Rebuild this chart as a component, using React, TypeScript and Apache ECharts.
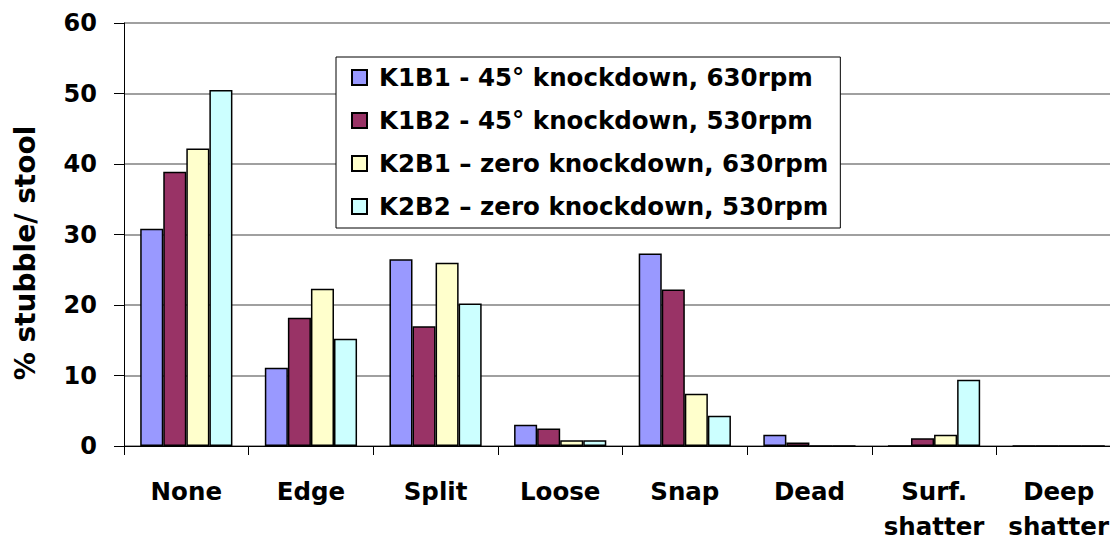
import React, { useEffect, useRef } from "react";
import * as echarts from "echarts";

const categories = ["None", "Edge", "Split", "Loose", "Snap", "Dead", "Surf.\nshatter", "Deep\nshatter"];
const seriesNames = [
  "K1B1 - 45° knockdown, 630rpm",
  "K1B2 - 45° knockdown, 530rpm",
  "K2B1 – zero knockdown, 630rpm",
  "K2B2 – zero knockdown, 530rpm",
];
const k1b1 = [30.8, 11.1, 26.5, 3.0, 27.3, 1.6, 0, 0];
const k1b2 = [38.9, 18.2, 17.0, 2.5, 22.2, 0.5, 1.1, 0];
const k2b1 = [42.2, 22.3, 26.0, 0.8, 7.4, 0, 1.6, 0];
const k2b2 = [50.5, 15.2, 20.2, 0.8, 4.3, 0, 9.4, 0];
const colors = ["#9999FF", "#993366", "#FFFFCC", "#CCFFFF"];
const yTicks = { min: 0, max: 60, interval: 10 };
const yTitle = "% stubble/ stool";

export default function App() {
  const ref = useRef<HTMLDivElement>(null);
  useEffect(() => {
    const chart = echarts.init(ref.current!, null, { renderer: "svg" });
    const font = "'DejaVu Sans', 'Liberation Sans', Arial, sans-serif";
    const data = [k1b1, k1b2, k2b1, k2b2];
    chart.setOption({
      animation: false,
      textStyle: { fontFamily: font },
      grid: { left: 124, top: 23, bottom: 94, right: -11, containLabel: false, outerBoundsMode: "none" },
      graphic: [
        {
          type: "text",
          x: 11,
          y: 253,
          rotation: Math.PI / 2,
          style: {
            text: yTitle,
            fontFamily: font,
            fontWeight: "bold",
            fontSize: 28,
            fill: "#000",
            align: "center",
            verticalAlign: "top",
          },
        },
      ],
      legend: {
        orient: "vertical",
        left: 336,
        top: 57,
        data: seriesNames,
        backgroundColor: "#fff",
        borderColor: "#000",
        borderWidth: 1,
        padding: [8, 12, 9, 15],
        itemGap: 18,
        itemWidth: 15,
        itemHeight: 15,
        icon: "rect",
        textStyle: { fontFamily: font, fontWeight: "bold", fontSize: 24.5, color: "#000", padding: [0, 0, 0, 7] },
      },
      xAxis: {
        type: "category",
        data: categories,
        axisLine: { lineStyle: { color: "#000", width: 1 } },
        axisTick: { show: true, length: 9, lineStyle: { color: "#000" } },
        axisLabel: { fontFamily: font, fontWeight: "bold", fontSize: 24.5, color: "#000", margin: 28, lineHeight: 35, interval: 0 },
      },
      yAxis: {
        type: "value",
        min: yTicks.min,
        max: yTicks.max,
        interval: yTicks.interval,
        axisLine: { show: true, lineStyle: { color: "#000", width: 1 } },
        axisTick: { show: true, length: 10, lineStyle: { color: "#000" } },
        axisLabel: { fontFamily: font, fontWeight: "bold", fontSize: 24, color: "#000", margin: 27 },
        splitLine: { lineStyle: { color: "#808080", width: 1.5 } },
      },
      series: data.map((d, i) => ({
        name: seriesNames[i],
        type: "bar",
        data: d,
        barGap: "0%",
        barCategoryGap: "26%",
        itemStyle: { color: colors[i], borderColor: "#000", borderWidth: 1.5 },
      })),
    });
    return () => chart.dispose();
  }, []);
  return <div ref={ref} style={{ width: 1110, height: 540, position: "absolute", left: 0, top: 0 }} />;
}
